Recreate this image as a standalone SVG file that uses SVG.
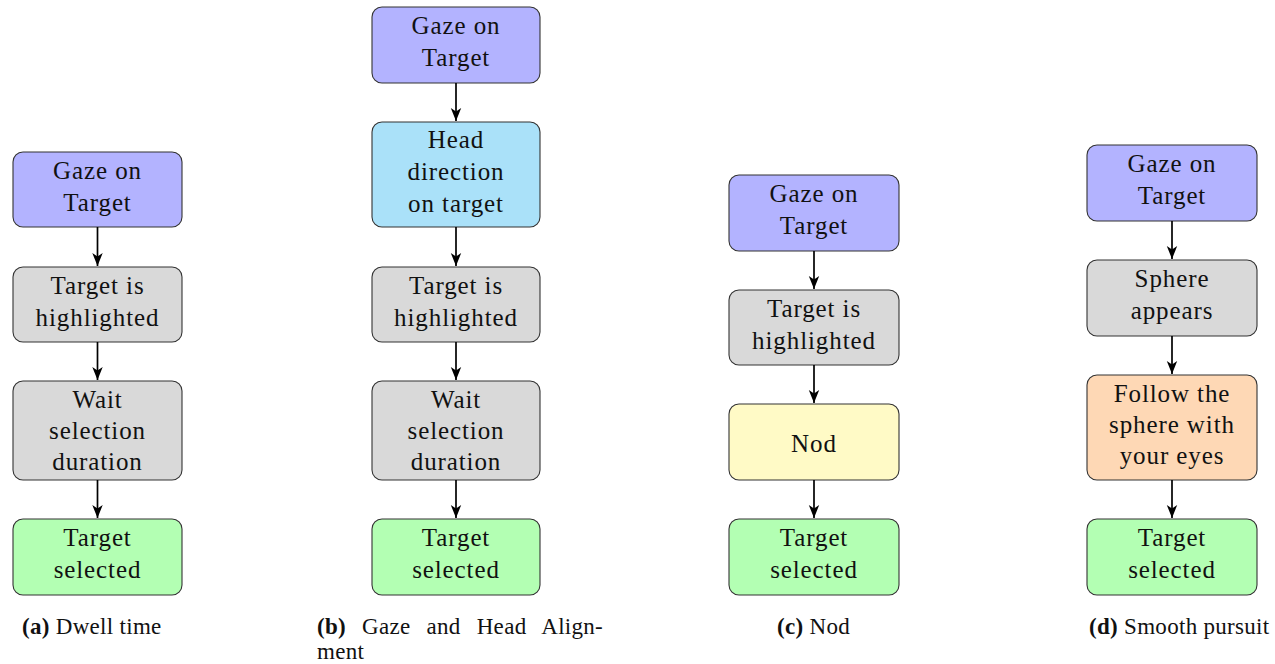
<svg xmlns="http://www.w3.org/2000/svg" width="1275" height="664" viewBox="0 0 1275 664">
<defs>
<marker id="ah" markerUnits="userSpaceOnUse" markerWidth="14" markerHeight="12" refX="13" refY="6" orient="auto">
<path d="M0,0.8 L13,6 L0,11.2 L3.5,6 z" fill="#000"/>
</marker>
</defs>
<style>
.n rect{stroke:#333;stroke-width:1.1;}
.n text{font-size:25px;letter-spacing:0.9px;text-anchor:middle;fill:#111;}
.blue{fill:#b3b3ff;}.cyan{fill:#aae1f9;}.gray{fill:#d9d9d9;}.green{fill:#b3ffb3;}.yellow{fill:#fffac6;}.orange{fill:#fed8b5;}
#edges line{stroke:#000;stroke-width:1.7;marker-end:url(#ah);}
.cap{font-size:23px;letter-spacing:0.3px;fill:#111;}
.cap tspan.b{font-weight:bold;}
</style>
<rect width="1275" height="664" fill="#fff"/>
<g font-family="Liberation Serif, serif">
<!-- column a -->
<g id="a1" class="n"><rect class="blue" x="13" y="152" width="169" height="75" rx="10"/><text x="97.5" y="179">Gaze on</text><text x="97.5" y="211">Target</text></g>
<g id="a2" class="n"><rect class="gray" x="13" y="267" width="169" height="75" rx="10"/><text x="97.5" y="294">Target is</text><text x="97.5" y="326">highlighted</text></g>
<g id="a3" class="n"><rect class="gray" x="13" y="381" width="169" height="99" rx="10"/><text x="97.5" y="408">Wait</text><text x="97.5" y="439">selection</text><text x="97.5" y="470">duration</text></g>
<g id="a4" class="n"><rect class="green" x="13" y="519" width="169" height="76" rx="10"/><text x="97.5" y="546">Target</text><text x="97.5" y="578">selected</text></g>

<!-- column b -->
<g id="b1" class="n"><rect class="blue" x="372" y="7" width="168" height="76" rx="10"/><text x="456" y="34">Gaze on</text><text x="456" y="66">Target</text></g>
<g id="b2" class="n"><rect class="cyan" x="372" y="122" width="168" height="105" rx="10"/><text x="456" y="148">Head</text><text x="456" y="180">direction</text><text x="456" y="212">on target</text></g>
<g id="b3" class="n"><rect class="gray" x="372" y="267" width="168" height="75" rx="10"/><text x="456" y="294">Target is</text><text x="456" y="326">highlighted</text></g>
<g id="b4" class="n"><rect class="gray" x="372" y="381" width="168" height="99" rx="10"/><text x="456" y="408">Wait</text><text x="456" y="439">selection</text><text x="456" y="470">duration</text></g>
<g id="b5" class="n"><rect class="green" x="372" y="519" width="168" height="76" rx="10"/><text x="456" y="546">Target</text><text x="456" y="578">selected</text></g>

<!-- column c -->
<g id="c1" class="n"><rect class="blue" x="729" y="175" width="170" height="76" rx="10"/><text x="814" y="202">Gaze on</text><text x="814" y="234">Target</text></g>
<g id="c2" class="n"><rect class="gray" x="729" y="290" width="170" height="75" rx="10"/><text x="814" y="317">Target is</text><text x="814" y="349">highlighted</text></g>
<g id="c3" class="n"><rect class="yellow" x="729" y="404" width="170" height="76" rx="10"/><text x="814" y="452">Nod</text></g>
<g id="c4" class="n"><rect class="green" x="729" y="519" width="170" height="76" rx="10"/><text x="814" y="546">Target</text><text x="814" y="578">selected</text></g>

<!-- column d -->
<g id="d1" class="n"><rect class="blue" x="1087" y="145" width="170" height="76" rx="10"/><text x="1172" y="172">Gaze on</text><text x="1172" y="204">Target</text></g>
<g id="d2" class="n"><rect class="gray" x="1087" y="260" width="170" height="76" rx="10"/><text x="1172" y="287">Sphere</text><text x="1172" y="319">appears</text></g>
<g id="d3" class="n"><rect class="orange" x="1087" y="375" width="170" height="105" rx="10"/><text x="1172" y="402">Follow the</text><text x="1172" y="433">sphere with</text><text x="1172" y="464">your eyes</text></g>
<g id="d4" class="n"><rect class="green" x="1087" y="519" width="170" height="76" rx="10"/><text x="1172" y="546">Target</text><text x="1172" y="578">selected</text></g>

<g id="edges">
<line x1="97.5" y1="227" x2="97.5" y2="266"/>
<line x1="97.5" y1="342" x2="97.5" y2="380"/>
<line x1="97.5" y1="480" x2="97.5" y2="518"/>
<line x1="456" y1="83" x2="456" y2="121"/>
<line x1="456" y1="227" x2="456" y2="266"/>
<line x1="456" y1="342" x2="456" y2="380"/>
<line x1="456" y1="480" x2="456" y2="518"/>
<line x1="814" y1="251" x2="814" y2="289"/>
<line x1="814" y1="365" x2="814" y2="403"/>
<line x1="814" y1="480" x2="814" y2="518"/>
<line x1="1172" y1="221" x2="1172" y2="259"/>
<line x1="1172" y1="336" x2="1172" y2="374"/>
<line x1="1172" y1="480" x2="1172" y2="518"/>
</g>

<g id="captions">
<text class="cap" x="22" y="634"><tspan class="b">(a)</tspan> Dwell time</text>
<text class="cap" x="317" y="634" word-spacing="10"><tspan class="b">(b)</tspan> Gaze and Head Align-</text>
<text class="cap" x="317" y="659">ment</text>
<text class="cap" x="777" y="634"><tspan class="b">(c)</tspan> Nod</text>
<text class="cap" x="1089" y="634"><tspan class="b">(d)</tspan> Smooth pursuit</text>
</g>
</g>
</svg>
